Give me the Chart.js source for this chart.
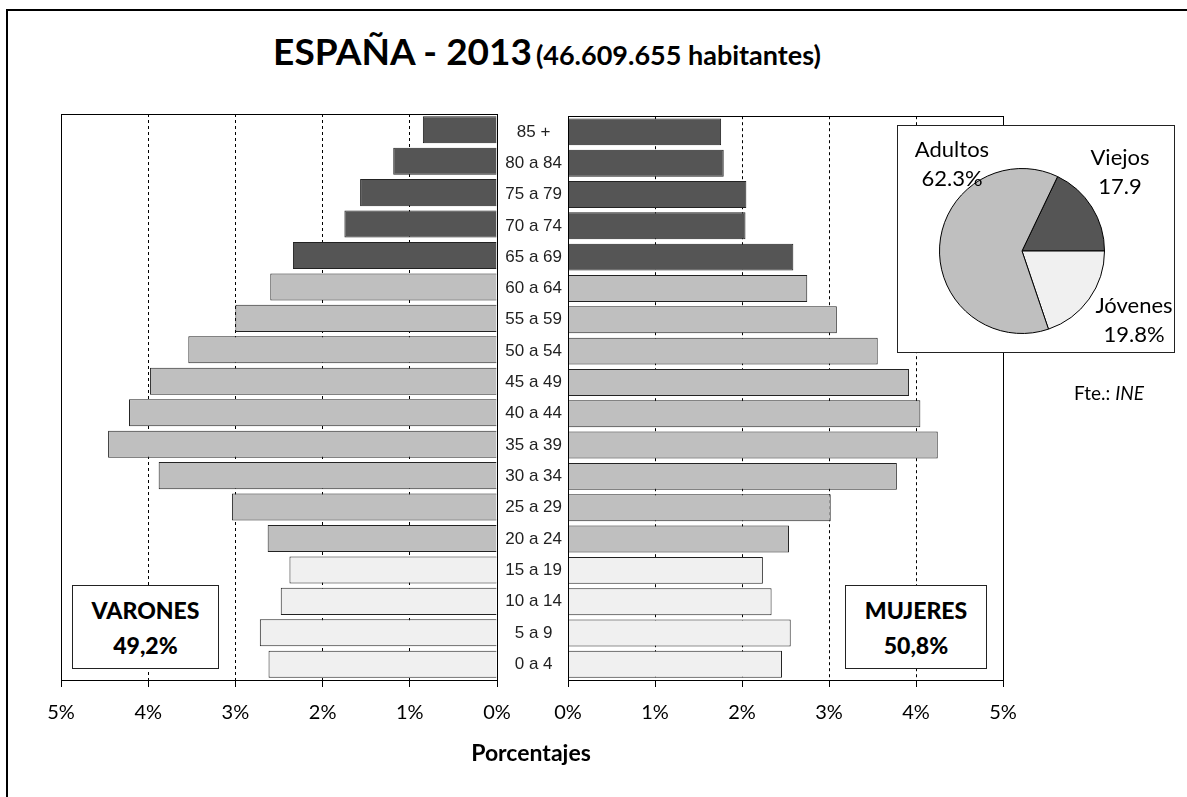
<!DOCTYPE html>
<html lang="es">
<head>
    <meta charset="UTF-8">
    <title>España 2013 - Pirámide de población</title>
    <script src="https://cdn.jsdelivr.net/npm/chart.js"></script>
    <style>
        body { margin: 0; background: #fff; }
        #page {
            position: relative;
            width: 1187px;
            height: 797px;
            overflow: hidden;
            font-family: Lato, "Open Sans", sans-serif;
            color: #000;
        }
        #frame {
            position: absolute;
            left: 6px; top: 9px;
            width: 1300px; height: 900px;
            border-left: 2px solid #000;
            border-top: 2px solid #000;
        }
        canvas { position: absolute; }
        .txt { position: absolute; white-space: nowrap; transform: translate(-50%, -50%); }
        .box {
            position: absolute;
            border: 1px solid #222;
            background: #fff;
            text-align: center;
            font-weight: 900;
            font-size: 23px;
            line-height: 35px;
            box-sizing: border-box;
            padding-top: 7px;
        }
        .pie-lbl { font-size: 22px; text-align: center; line-height: 29px; }
    </style>
</head>
<body>
<div id="page">
    <div id="frame"></div>

    <div class="txt" style="left:547px; top:50px; font-weight:bold;">
        <span style="font-size:37px;">ESPAÑA - 2013</span>&nbsp;<span style="font-size:27px;">(46.609.655 habitantes)</span>
    </div>

    <canvas id="leftChart" width="520" height="660" style="left:0; top:100px;"></canvas>
    <canvas id="rightChart" width="690" height="660" style="left:497px; top:100px;"></canvas>

    <div class="box" style="left:72px; top:585px; width:147px; height:84px;">VARONES<br>49,2%</div>
    <div class="box" style="left:845px; top:585px; width:142px; height:84px;">MUJERES<br>50,8%</div>

    <div class="box" style="left:897px; top:125px; width:278px; height:228px;"></div>
    <canvas id="pieChart" width="166" height="166" style="left:939px; top:168px;"></canvas>
    <div class="txt pie-lbl" style="left:952px; top:163px;">Adultos<br>62.3%</div>
    <div class="txt pie-lbl" style="left:1120px; top:171px;">Viejos<br>17.9</div>
    <div class="txt pie-lbl" style="left:1134px; top:319px;">Jóvenes<br>19.8%</div>

    <div class="txt" style="left:1109px; top:392px; font-size:19px;">Fte.: <i>INE</i></div>

    <div class="txt" style="left:531px; top:752px; font-size:23px; font-weight:bold;">Porcentajes</div>
</div>

<script>
    // grupos de edad, de arriba (85 +) a abajo (0 a 4)
    const ageGroups = ['85 +', '80 a 84', '75 a 79', '70 a 74', '65 a 69', '60 a 64', '55 a 59',
        '50 a 54', '45 a 49', '40 a 44', '35 a 39', '30 a 34', '25 a 29', '20 a 24',
        '15 a 19', '10 a 14', '5 a 9', '0 a 4'];

    // porcentaje sobre la población total
    const varones = [0.85, 1.19, 1.57, 1.75, 2.34, 2.60, 3.00, 3.54, 3.98,
        4.22, 4.46, 3.88, 3.04, 2.63, 2.38, 2.48, 2.72, 2.62];
    const mujeres = [1.76, 1.79, 2.05, 2.04, 2.59, 2.75, 3.09, 3.56, 3.92,
        4.05, 4.25, 3.78, 3.02, 2.54, 2.24, 2.34, 2.56, 2.46];

    const pieLabels = ['Viejos', 'Jóvenes', 'Adultos'];
    const pieValues = [17.9, 19.8, 62.3];

    const xTicks = [0, 1, 2, 3, 4, 5];

    // color según el grupo: viejos (65+), adultos (20-64), jóvenes (0-19)
    function colorFor(label) {
        const start = parseInt(label, 10);
        if (start >= 65) return '#555555';
        if (start >= 20) return '#bfbfbf';
        return '#f0f0f0';
    }
    const barColors = ageGroups.map(colorFor);

    // marco del área de trazado
    const areaBox = {
        id: 'areaBox',
        afterDatasetsDraw(chart) {
            const a = chart.chartArea;
            const ctx = chart.ctx;
            ctx.save();
            ctx.strokeStyle = '#000';
            ctx.lineWidth = 1;
            ctx.strokeRect(Math.round(a.left) + 0.5, Math.round(a.top) + 0.5,
                Math.round(a.right - a.left), Math.round(a.bottom - a.top));
            ctx.restore();
        }
    };

    function xScale(reverse) {
        return {
            type: 'linear',
            min: 0,
            max: 5,
            reverse: reverse,
            afterBuildTicks(scale) {
                scale.ticks = xTicks.map(v => ({ value: v }));
            },
            afterFit(scale) { scale.height = 80; },
            grid: {
                color: '#000',
                lineWidth: 1,
                tickLength: 7,
                tickColor: '#000'
            },
            border: { display: false, dash: [3, 3] },
            ticks: {
                padding: 14,
                color: '#000',
                font: { family: 'Lato', size: 20 },
                callback: v => v + '%'
            }
        };
    }

    Chart.defaults.animation = false;

    new Chart(document.getElementById('leftChart'), {
        type: 'bar',
        data: {
            labels: ageGroups,
            datasets: [{
                label: 'Varones',
                data: varones,
                backgroundColor: barColors,
                borderColor: '#222',
                borderWidth: 1,
                barPercentage: 0.86,
                categoryPercentage: 1
            }]
        },
        options: {
            indexAxis: 'y',
            responsive: false,
            layout: { padding: { left: 61, right: 23, top: 14, bottom: 0 } },
            scales: {
                x: xScale(true),
                y: { display: false }
            },
            plugins: { legend: { display: false }, tooltip: { enabled: false } }
        },
        plugins: [areaBox]
    });

    new Chart(document.getElementById('rightChart'), {
        type: 'bar',
        data: {
            labels: ageGroups,
            datasets: [{
                label: 'Mujeres',
                data: mujeres,
                backgroundColor: barColors,
                borderColor: '#222',
                borderWidth: 1,
                barPercentage: 0.86,
                categoryPercentage: 1
            }]
        },
        options: {
            indexAxis: 'y',
            responsive: false,
            layout: { padding: { left: 0, right: 184, top: 14, bottom: 0 } },
            scales: {
                x: xScale(false),
                y: {
                    position: 'left',
                    afterFit(scale) { scale.width = 71; },
                    grid: { display: false, drawTicks: false },
                    border: { display: false },
                    ticks: {
                        crossAlign: 'center',
                        padding: 6,
                        color: '#222',
                        font: { family: '"Liberation Sans", Arial', size: 17 }
                    }
                }
            },
            plugins: { legend: { display: false }, tooltip: { enabled: false } }
        },
        plugins: [areaBox]
    });

    new Chart(document.getElementById('pieChart'), {
        type: 'pie',
        data: {
            labels: pieLabels,
            datasets: [{
                data: pieValues,
                backgroundColor: pieLabels.map(l => l === 'Viejos' ? '#555555' : (l === 'Jóvenes' ? '#f0f0f0' : '#bfbfbf')),
                borderColor: '#000',
                borderWidth: 1
            }]
        },
        options: {
            responsive: false,
            // la porción de viejos termina en la horizontal derecha
            rotation: 90 - pieValues[0] * 3.6,
            layout: { padding: 0 },
            plugins: { legend: { display: false }, tooltip: { enabled: false } }
        }
    });
</script>
</body>
</html>
